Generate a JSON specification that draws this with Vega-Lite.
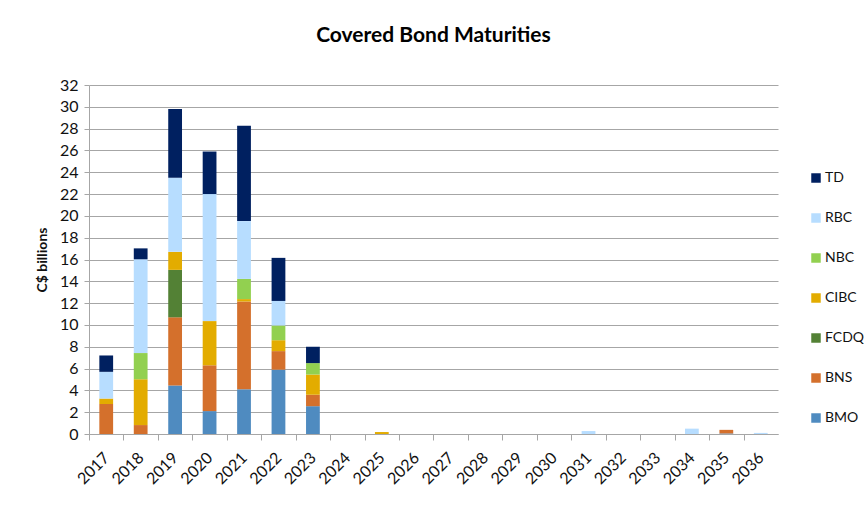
{
  "$schema": "https://vega.github.io/schema/vega-lite/v6.json",
  "width": 689,
  "height": 349,
  "autosize": {"type": "none"},
  "padding": {"left": 89, "top": 85, "right": 86, "bottom": 98},
  "background": "white",
  "title": {
    "text": "Covered Bond Maturities",
    "font": "Lato",
    "fontSize": 21,
    "fontWeight": "bold",
    "color": "black",
    "anchor": "middle",
    "baseline": "alphabetic",
    "offset": 14
  },
  "config": {
    "view": {"stroke": null},
    "axis": {"labelFont": "Lato", "labelColor": "#111", "titleColor": "#111"}
  },
  "data": {
    "values": [
      {"year": "2017", "bank": "BNS", "value": 2.75},
      {"year": "2017", "bank": "CIBC", "value": 0.5},
      {"year": "2017", "bank": "RBC", "value": 2.45},
      {"year": "2017", "bank": "TD", "value": 1.5},
      {"year": "2018", "bank": "BNS", "value": 0.82},
      {"year": "2018", "bank": "CIBC", "value": 4.2},
      {"year": "2018", "bank": "NBC", "value": 2.4},
      {"year": "2018", "bank": "RBC", "value": 8.6},
      {"year": "2018", "bank": "TD", "value": 1.0},
      {"year": "2019", "bank": "BMO", "value": 4.45},
      {"year": "2019", "bank": "BNS", "value": 6.25},
      {"year": "2019", "bank": "FCDQ", "value": 4.35},
      {"year": "2019", "bank": "CIBC", "value": 1.65},
      {"year": "2019", "bank": "RBC", "value": 6.8},
      {"year": "2019", "bank": "TD", "value": 6.3},
      {"year": "2020", "bank": "BMO", "value": 2.1},
      {"year": "2020", "bank": "BNS", "value": 4.2},
      {"year": "2020", "bank": "CIBC", "value": 4.05},
      {"year": "2020", "bank": "RBC", "value": 11.65},
      {"year": "2020", "bank": "TD", "value": 3.9},
      {"year": "2021", "bank": "BMO", "value": 4.1},
      {"year": "2021", "bank": "BNS", "value": 8.05},
      {"year": "2021", "bank": "CIBC", "value": 0.22},
      {"year": "2021", "bank": "NBC", "value": 1.85},
      {"year": "2021", "bank": "RBC", "value": 5.3},
      {"year": "2021", "bank": "TD", "value": 8.75},
      {"year": "2022", "bank": "BMO", "value": 5.9},
      {"year": "2022", "bank": "BNS", "value": 1.7},
      {"year": "2022", "bank": "CIBC", "value": 1.0},
      {"year": "2022", "bank": "NBC", "value": 1.35},
      {"year": "2022", "bank": "RBC", "value": 2.25},
      {"year": "2022", "bank": "TD", "value": 3.95},
      {"year": "2023", "bank": "BMO", "value": 2.55},
      {"year": "2023", "bank": "BNS", "value": 1.05},
      {"year": "2023", "bank": "CIBC", "value": 1.85},
      {"year": "2023", "bank": "NBC", "value": 1.05},
      {"year": "2023", "bank": "TD", "value": 1.5},
      {"year": "2025", "bank": "CIBC", "value": 0.18},
      {"year": "2031", "bank": "RBC", "value": 0.27},
      {"year": "2034", "bank": "RBC", "value": 0.49},
      {"year": "2035", "bank": "BMO", "value": 0.05},
      {"year": "2035", "bank": "BNS", "value": 0.33},
      {"year": "2036", "bank": "RBC", "value": 0.1}
    ]
  },
  "transform": [
    {"calculate": "indexof(['BMO','BNS','FCDQ','CIBC','NBC','RBC','TD'], datum.bank)", "as": "stackOrder"}
  ],
  "mark": {"type": "bar"},
  "encoding": {
    "x": {
      "field": "year",
      "type": "ordinal",
      "scale": {
        "domain": ["2017","2018","2019","2020","2021","2022","2023","2024","2025","2026","2027","2028","2029","2030","2031","2032","2033","2034","2035","2036"],
        "paddingInner": 0.6,
        "paddingOuter": 0.3
      },
      "axis": {
        "title": null,
        "labelAngle": -45,
        "labelAlign": "right",
        "labelBaseline": "middle",
        "labelFontSize": 16,
        "labelPadding": 15,
        "tickOffset": -17.225,
        "labelOffset": 17.225,
        "tickSize": 6,
        "tickColor": "#A6A6A6",
        "domainColor": "#A6A6A6",
        "grid": false
      }
    },
    "y": {
      "field": "value",
      "type": "quantitative",
      "aggregate": "sum",
      "scale": {"domain": [0, 32]},
      "axis": {
        "title": "C$ billions",
        "titleFont": "Lato",
        "titleFontSize": 14,
        "titleFontWeight": "bold",
        "titlePadding": 10,
        "values": [0,2,4,6,8,10,12,14,16,18,20,22,24,26,28,30,32],
        "labelFontSize": 16,
        "labelPadding": 6,
        "tickSize": 5,
        "tickColor": "#A6A6A6",
        "domainColor": "#A6A6A6",
        "gridColor": "#A6A6A6",
        "gridWidth": 1
      }
    },
    "color": {
      "field": "bank",
      "type": "nominal",
      "scale": {
        "domain": ["TD","RBC","NBC","CIBC","FCDQ","BNS","BMO"],
        "range": ["#002060","#B7DDFF","#92D050","#E3AC00","#538135","#D4702C","#4F8BC0"]
      },
      "legend": {
        "title": null,
        "orient": "none",
        "legendX": 720,
        "legendY": 86,
        "symbolType": "square",
        "symbolSize": 90,
        "symbolStrokeWidth": 0,
        "labelFont": "Lato",
        "labelFontSize": 14,
        "labelColor": "#111",
        "labelOffset": 2,
        "rowPadding": 26
      }
    },
    "order": {"field": "stackOrder", "type": "quantitative", "sort": "ascending"}
  }
}
